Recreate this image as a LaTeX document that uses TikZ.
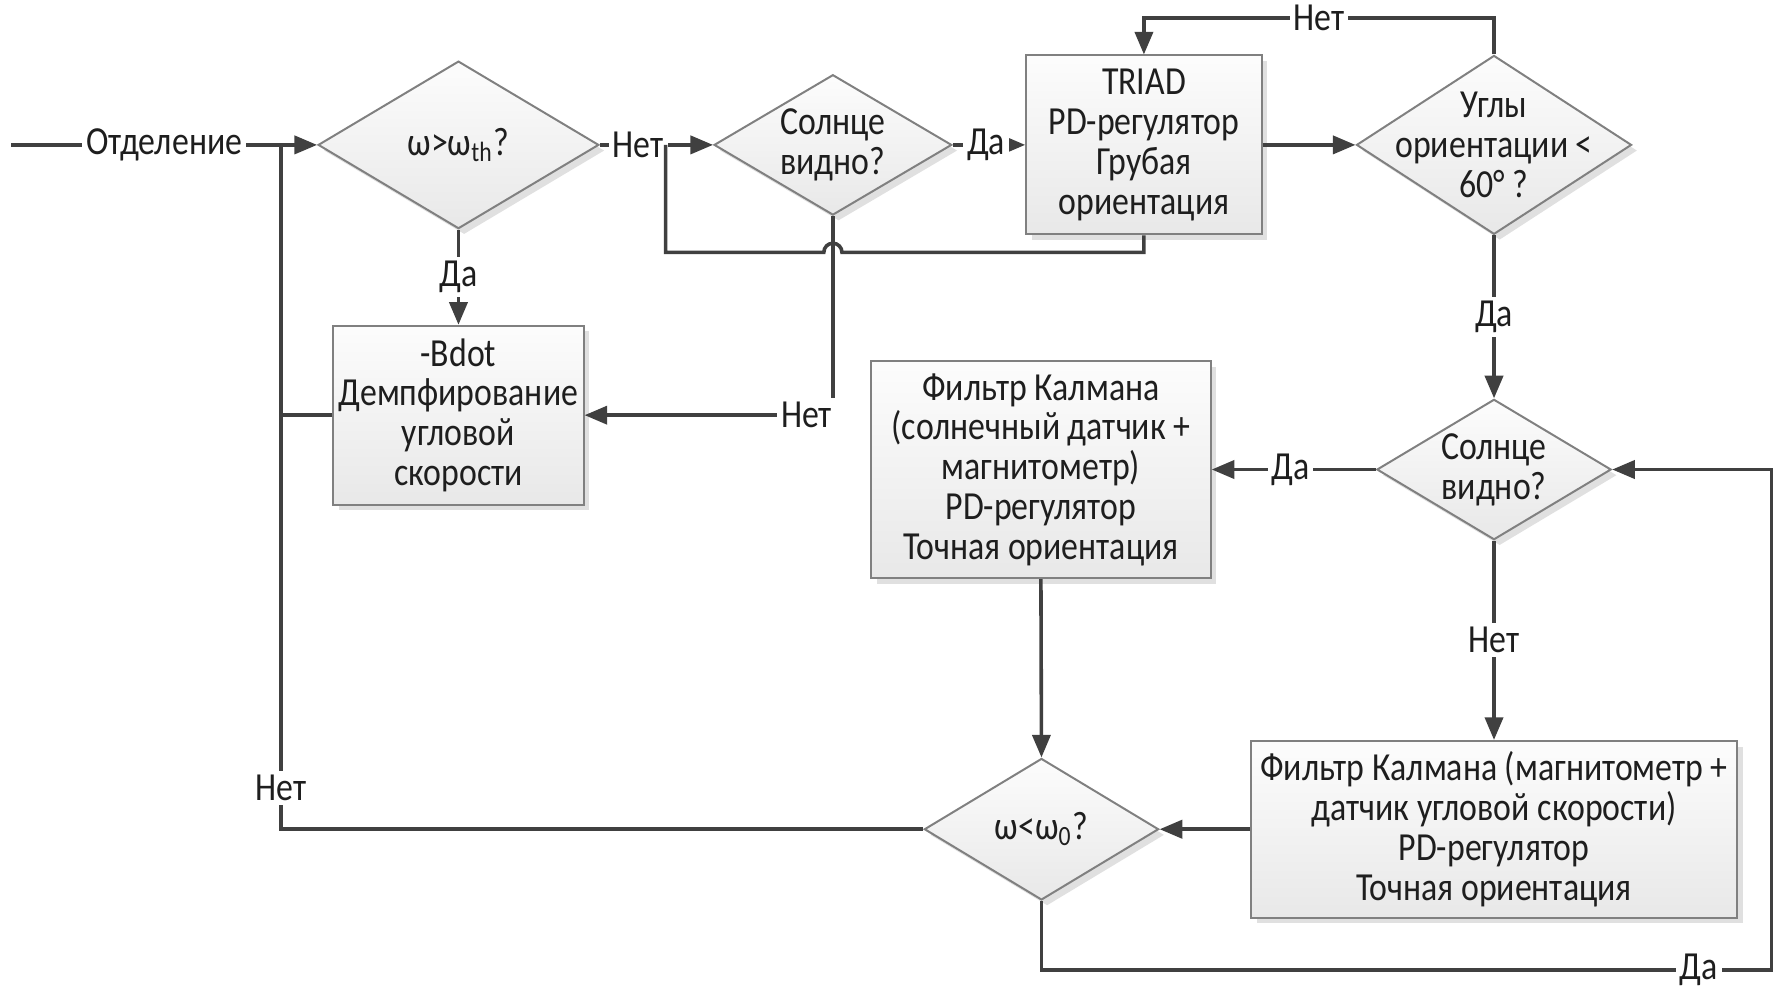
\documentclass[tikz,border=0pt]{standalone}
\usepackage{fontspec}
\setmainfont{Carlito}[FakeStretch=0.85]
\usepackage{xcolor}
\usetikzlibrary{arrows.meta, positioning, shapes.geometric, shadows, calc}
\definecolor{linegray}{RGB}{64, 64, 64}
\definecolor{edgegray}{RGB}{128, 128, 128}
\definecolor{textgray}{RGB}{30, 30, 30}

\begin{document}
\begin{tikzpicture}[
  block/.style={draw=edgegray, line width=0.5pt, top color=black!1, bottom color=black!9,
                drop shadow={shadow xshift=0.5mm, shadow yshift=-0.5mm, fill=black!30, opacity=0.4},
                font=\fontsize{10}{10}\selectfont, text=textgray, align=center, inner sep=1pt},
  decision/.style={diamond, draw=edgegray, line width=0.5pt, top color=black!1, bottom color=black!9,
                drop shadow={shadow xshift=0.5mm, shadow yshift=-0.5mm, fill=black!30, opacity=0.4},
                inner sep=0pt},
  dtext/.style={font=\fontsize{10}{10}\selectfont, text=textgray, align=center, inner sep=0pt},
  arrow/.style={-{Triangle[length=2mm, width=1.6mm]}, line width=0.9pt, color=linegray},
  link/.style={line width=0.9pt, color=linegray},
  lbl/.style={fill=white, inner sep=1pt, font=\fontsize{10}{10}\selectfont, text=textgray}
]
\useasboundingbox (0,0) rectangle (15.68,-8.72);

% Entry
\coordinate (start) at (0.10,-1.28);
\coordinate (jn) at (2.48,-1.28);
\coordinate (jl) at (5.88,-1.28);
\coordinate (rt) at (15.65,-8.57);

% Row 1: rate check, sun check, TRIAD, angle check
\node[decision, minimum width=2.48cm, minimum height=1.48cm,
      label={[dtext]center:{ω>ω\textsubscript{th}?}}] (omegath) at (4.05,-1.28) {};
\node[decision, minimum width=2.10cm, minimum height=1.24cm, right=1.00cm of omegath,
      label={[dtext]center:{Солнце\\видно?}}] (sun1) {};
\node[block, minimum width=2.08cm, minimum height=1.58cm, right=0.64cm of sun1] (triad)
      {TRIAD\\PD-регулятор\\Грубая\\ориентация};
\node[decision, minimum width=2.43cm, minimum height=1.58cm, right=0.82cm of triad,
      label={[dtext]center:{Углы\\ориентации <\\60° ?}}] (angles) {};

% Detumbling
\node[block, minimum width=2.21cm, minimum height=1.58cm, below=0.84cm of omegath] (bdot)
      {-Bdot\\Демпфирование\\угловой\\скорости};

% Row 2: second sun check and fine attitude
\node[decision, minimum width=2.07cm, minimum height=1.24cm, below=1.44cm of angles,
      label={[dtext]center:{Солнце\\видно?}}] (sun2) {};
\node[block, minimum width=3.00cm, minimum height=1.92cm, left=1.45cm of sun2] (kalsun)
      {Фильтр Калмана\\(солнечный датчик +\\магнитометр)\\PD-регулятор\\Точная ориентация};

% Row 3: magnetometer filter and final rate check
\node[block, minimum width=4.29cm, minimum height=1.56cm, below=1.76cm of sun2] (kalmag)
      {Фильтр Калмана (магнитометр +\\датчик угловой скорости)\\PD-регулятор\\Точная ориентация};
\node[decision, minimum width=2.07cm, minimum height=1.25cm, left=0.80cm of kalmag,
      label={[dtext]center:{ω<ω\textsubscript{0}?}}] (omega0) {};

% Arrows
\draw[arrow] (start) -- node[lbl]{Отделение} (omegath.west);
\draw[link] (bdot.west) -| (jn);
\draw[link] (omega0.west) -| node[lbl, pos=0.53]{Нет} (jn);
\draw[arrow] (omegath.south) -- node[lbl]{Да} (bdot.north);
\draw[arrow] (omegath.east) -- node[lbl, pos=0.34]{Нет} (sun1.west);
\draw[arrow] (sun1.east) -- node[lbl, pos=0.46]{Да} (triad.west);
\draw[arrow] (sun1.south) |- node[lbl, pos=0.553]{Нет} (bdot.east);
\draw[link] (triad.south) -- ++(0,-0.15) coordinate (lp)
  -- ($(lp -| sun1.south)+(0.08,0)$) arc[start angle=0, end angle=180, radius=0.08]
  -- (lp -| jl) -- (jl);
\draw[arrow] (triad.east) -- (angles.west);
\draw[arrow] (angles.north) -- ++(0,0.32) -| node[lbl, pos=0.25]{Нет} (triad.north);
\draw[arrow] (angles.south) -- node[lbl]{Да} (sun2.north);
\draw[arrow] (sun2.west) -- node[lbl, pos=0.52]{Да} (kalsun.east);
\draw[arrow] (sun2.south) -- node[lbl]{Нет} (kalmag.north);
\draw[arrow] (kalsun.south) -- (omega0.north);
\draw[arrow] (kalmag.west) -- (omega0.east);
\draw[arrow] (omega0.south) |- node[lbl, pos=0.95]{Да} (rt) |- (sun2.east);

\end{tikzpicture}
\end{document}
